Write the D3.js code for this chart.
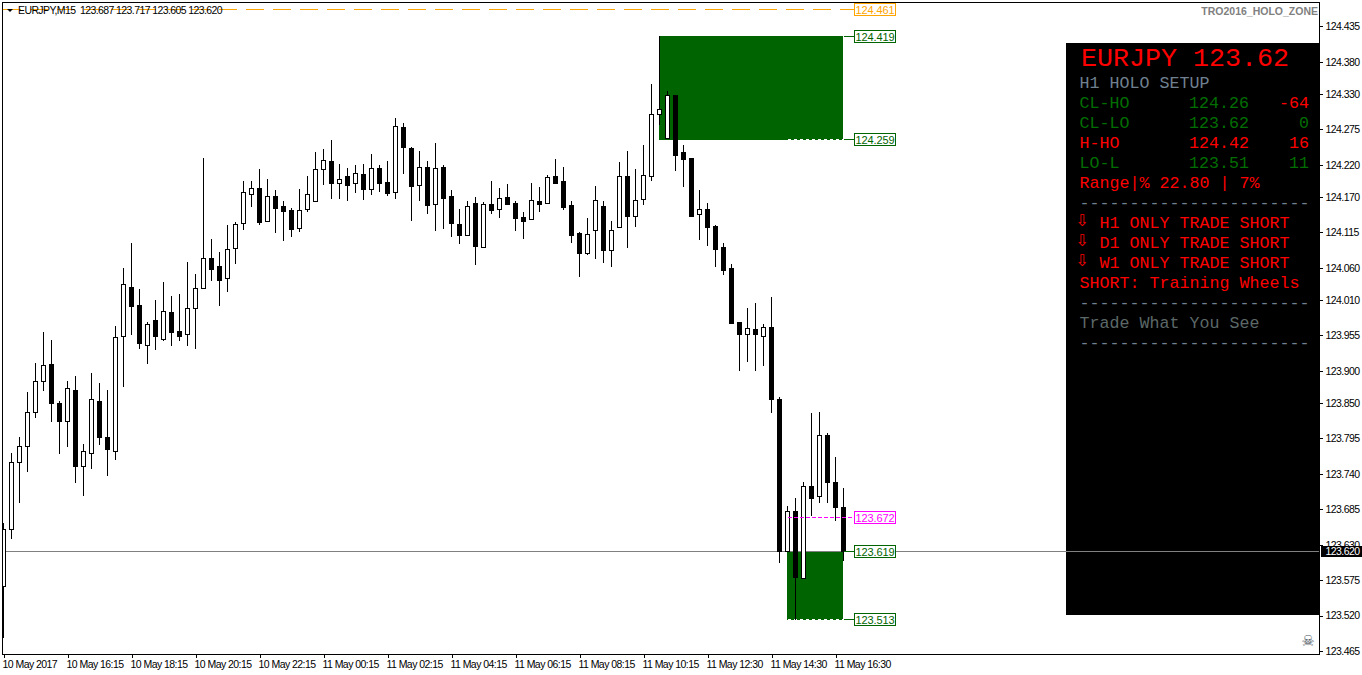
<!doctype html>
<html lang="en">
<head>
  <meta charset="utf-8">
  <title>EURJPY,M15</title>
  <style>
    html, body { margin: 0; padding: 0; background: #fff; overflow: hidden; }
    svg { display: block; }
    .axis text { font-family: "Liberation Sans", sans-serif; font-size: 10.5px; letter-spacing: -0.55px; fill: #000; }
    .axis line { stroke: #000; shape-rendering: crispEdges; }
    .lvl { font-family: "Liberation Sans", sans-serif; font-size: 11px; letter-spacing: -0.1px; }
    .panel text { font-family: "Liberation Mono", "Courier New", monospace; font-size: 16.67px; white-space: pre; }
  </style>
</head>
<body>
  <div id="chart"></div>
  <script src="https://d3js.org/d3.v7.min.js"></script>
  <script>
// candles, oldest first, one entry per M15 bar
var opens = [123.565,123.654,123.758,123.782,123.835,123.884,123.909,123.849,123.821,123.870,123.752,123.772,123.852,123.797,123.775,123.953,124.029,124.001,123.940,123.978,123.948,123.990,123.961,123.956,123.996,124.028,124.074,124.062,124.043,124.090,124.129,124.174,124.183,124.132,124.171,124.155,124.149,124.121,124.150,124.163,124.213,124.225,124.191,124.202,124.191,124.205,124.182,124.214,124.193,124.177,124.278,124.245,124.188,124.216,124.158,124.216,124.171,124.127,124.110,124.160,124.091,124.158,124.150,124.169,124.160,124.138,124.135,124.163,124.160,124.202,124.194,124.157,124.113,124.082,124.118,124.155,124.087,124.122,124.202,124.140,124.166,124.202,124.298,124.261,124.328,124.239,124.230,124.143,124.150,124.124,124.091,124.059,123.975,123.956,123.964,123.953,123.967,123.856,123.620,123.682,123.578,123.721,123.704,123.800,123.727,123.687];
var highs = [123.663,123.772,123.796,123.867,123.912,123.959,123.947,123.852,123.884,123.891,123.786,123.895,123.881,123.870,123.968,124.059,124.098,124.026,123.975,124.009,124.037,124.015,124.018,124.068,124.049,124.230,124.104,124.084,124.126,124.130,124.194,124.194,124.213,124.197,124.180,124.163,124.152,124.182,124.202,124.239,124.244,124.258,124.221,124.214,124.219,124.221,124.236,124.219,124.225,124.291,124.284,124.247,124.241,124.225,124.253,124.219,124.180,124.150,124.163,124.169,124.161,124.194,124.183,124.189,124.163,124.146,124.191,124.185,124.203,124.228,124.216,124.163,124.115,124.136,124.186,124.163,124.132,124.224,124.241,124.213,124.250,124.345,124.419,124.334,124.328,124.250,124.230,124.180,124.160,124.126,124.098,124.065,123.975,123.996,124.004,123.972,124.014,123.858,123.690,123.701,123.726,123.833,123.835,123.803,123.766,123.717];
var lows = [123.486,123.640,123.695,123.744,123.827,123.869,123.821,123.771,123.782,123.727,123.707,123.749,123.785,123.737,123.763,123.875,123.956,123.934,123.911,123.933,123.947,123.940,123.947,123.940,123.934,124.028,124.040,124.001,124.023,124.066,124.119,124.155,124.127,124.132,124.115,124.102,124.108,124.116,124.147,124.163,124.189,124.168,124.168,124.164,124.177,124.166,124.174,124.178,124.172,124.168,124.207,124.133,124.164,124.144,124.118,124.121,124.108,124.098,124.110,124.065,124.091,124.144,124.138,124.158,124.118,124.105,124.135,124.147,124.160,124.191,124.150,124.099,124.046,124.080,124.074,124.068,124.062,124.122,124.091,124.124,124.158,124.196,124.283,124.261,124.211,124.186,124.140,124.104,124.094,124.062,124.049,123.973,123.900,123.914,123.900,123.908,123.835,123.603,123.620,123.513,123.578,123.676,123.695,123.695,123.667,123.605];
var closes = [123.654,123.758,123.783,123.835,123.883,123.908,123.849,123.821,123.872,123.752,123.775,123.855,123.796,123.777,123.951,124.034,124.000,123.942,123.972,123.954,123.992,123.959,123.953,123.996,124.028,124.074,124.057,124.040,124.088,124.127,124.177,124.183,124.130,124.171,124.152,124.147,124.119,124.149,124.174,124.213,124.227,124.191,124.197,124.188,124.207,124.182,124.214,124.191,124.175,124.280,124.247,124.186,124.216,124.157,124.214,124.168,124.129,124.110,124.155,124.093,124.158,124.149,124.168,124.158,124.136,124.132,124.164,124.158,124.200,124.191,124.154,124.110,124.082,124.112,124.164,124.087,124.118,124.202,124.140,124.164,124.203,124.298,124.306,124.328,124.235,124.228,124.140,124.150,124.122,124.088,124.056,123.973,123.956,123.965,123.956,123.967,123.856,123.620,123.681,123.579,123.721,123.702,123.800,123.727,123.687,123.620];

var priceTicks = [124.435,124.380,124.330,124.275,124.220,124.170,124.115,124.060,124.010,123.955,123.900,123.850,123.795,123.740,123.685,123.630,123.575,123.520,123.465];
var timeLabels = ["10 May 2017","10 May 16:15","10 May 18:15","10 May 20:15","10 May 22:15","11 May 00:15","11 May 02:15","11 May 04:15","11 May 06:15","11 May 08:15","11 May 10:15","11 May 12:30","11 May 14:30","11 May 16:30"];

// holo levels
var levelValues = [124.461, 124.419, 124.259, 123.672, 123.619, 123.513];
var levelColors = ["#ffa500", "#006400", "#006400", "#ff00ff", "#006400", "#006400"];
var lastPrice = 123.620;
var upperZone = [124.419, 124.259];
var lowerZone = [123.619, 123.513];
var upperZoneStart = 82;
var lowerZoneStart = 98;

// the black info box, row by row
var panelRows = [
  ["H1 HOLO SETUP", "", "", "#708090"],
  ["CL-HO", "124.26", "-64", "#006e00", "#006e00", "#ff0000"],
  ["CL-LO", "123.62", "0", "#006e00", "#006e00", "#006e00"],
  ["H-HO", "124.42", "16", "#ff0000", "#ff0000", "#ff0000"],
  ["LO-L", "123.51", "11", "#006e00", "#006e00", "#006e00"],
  ["Range|% 22.80 | 7%", "", "", "#ff0000"],
  ["-----------------------", "", "", "#708090"],
  ["H1 ONLY TRADE SHORT", "", "", "#ff0000"],
  ["D1 ONLY TRADE SHORT", "", "", "#ff0000"],
  ["W1 ONLY TRADE SHORT", "", "", "#ff0000"],
  ["SHORT: Training Wheels", "", "", "#ff0000"],
  ["-----------------------", "", "", "#708090"],
  ["Trade What You See", "", "", "#5c6868"],
  ["-----------------------", "", "", "#708090"]
];
var arrowRows = [7, 8, 9];

(function(){

  var width = 1362;
  var height = 675;
  var left = 2.5, top = 2.5, right = 1319.5, bottom = 654.5;

  var y = d3.scaleLinear().domain([123.465, 124.435]).range([650.4, 25.76]);
  var x = d3.scaleLinear().domain([0, 105]).range([3.5, 843.5]);
  // snap to the pixel row so the candles stay sharp
  var py = function(v) { return Math.round(y(v)) + 0.5; };

  var svg = d3.select("#chart").append("svg")
    .attr("width", width)
    .attr("height", height);

  svg.append("clipPath").attr("id", "plot")
    .append("rect")
    .attr("x", 3).attr("y", 3)
    .attr("width", right - 3).attr("height", bottom - 3);

  // info box goes first, the price line runs over it
  svg.append("rect")
    .attr("x", 1066).attr("y", 43)
    .attr("width", right - 1066).attr("height", 572)
    .attr("fill", "#000");

  var chart = svg.append("g").attr("clip-path", "url(#plot)");

  // zones
  var zones = [
    {range: upperZone, start: upperZoneStart},
    {range: lowerZone, start: lowerZoneStart}
  ];
  chart.selectAll("rect.zone").data(zones).enter().append("rect")
    .attr("class", "zone")
    .attr("x", function(d) { return x(d.start) - 0.5; })
    .attr("y", function(d) { return py(d.range[0]) - 0.5; })
    .attr("width", function(d) { return x(105) - x(d.start); })
    .attr("height", function(d) { return py(d.range[1]) - py(d.range[0]) + 1; })
    .attr("fill", "#006400");

  // last price line
  chart.append("line")
    .attr("x1", 3).attr("x2", right)
    .attr("y1", py(lastPrice)).attr("y2", py(lastPrice))
    .attr("stroke", "#808080")
    .attr("shape-rendering", "crispEdges");

  // dotted bottom edges of the zones
  chart.selectAll("line.edge").data([upperZone[1], lowerZone[1]]).enter().append("line")
    .attr("class", "edge")
    .attr("x1", x(lowerZoneStart)).attr("x2", x(105))
    .attr("y1", py).attr("y2", py)
    .attr("stroke", "#fff")
    .attr("stroke-dasharray", "3,3")
    .attr("shape-rendering", "crispEdges");

  // candles
  var candle = chart.selectAll("g.candle").data(d3.range(opens.length)).enter().append("g")
    .attr("class", "candle")
    .attr("shape-rendering", "crispEdges");

  candle.append("line")
    .attr("x1", x).attr("x2", x)
    .attr("y1", function(i) { return py(highs[i]) - 0.5; })
    .attr("y2", function(i) { return py(lows[i]) + 0.5; })
    .attr("stroke", "#000");

  candle.append("rect")
    .attr("x", function(i) { return x(i) - 2; })
    .attr("width", 4)
    .attr("y", function(i) { return py(Math.max(opens[i], closes[i])); })
    .attr("height", function(i) { return py(Math.min(opens[i], closes[i])) - py(Math.max(opens[i], closes[i])); })
    .attr("fill", function(i) { return closes[i] > opens[i] ? "#fff" : "#000"; })
    .attr("stroke", "#000");

  // window frame
  svg.append("rect")
    .attr("x", left).attr("y", top)
    .attr("width", right - left).attr("height", bottom - top)
    .attr("fill", "none").attr("stroke", "#000")
    .attr("shape-rendering", "crispEdges");

  // axes
  var yAxis = d3.axisRight(y)
    .tickValues(priceTicks)
    .tickFormat(d3.format(".3f"))
    .tickSize(3)
    .tickPadding(3);
  var yg = svg.append("g").attr("class", "axis")
    .attr("transform", "translate(" + right + ",0.6)")
    .call(yAxis);
  yg.select(".domain").remove();

  var xAxis = d3.axisBottom(x)
    .tickValues(timeLabels.map(function(d, i) { return i * 8; }))
    .tickFormat(function(d) { return timeLabels[d / 8]; })
    .tickSize(3)
    .tickPadding(3);
  var xg = svg.append("g").attr("class", "axis")
    .attr("transform", "translate(0," + bottom + ")")
    .call(xAxis);
  xg.select(".domain").remove();
  xg.selectAll("text").attr("text-anchor", "start").attr("dx", -1.5);

  // current price tag
  svg.append("rect")
    .attr("x", 1321).attr("y", py(lastPrice) - 5.5)
    .attr("width", 41).attr("height", 11)
    .attr("fill", "#000");
  svg.append("text")
    .attr("x", 1325.5).attr("y", py(lastPrice) + 3.5)
    .attr("font-family", "Liberation Sans").attr("font-size", 10.5)
    .attr("letter-spacing", -0.55)
    .attr("fill", "#fff")
    .text(d3.format(".3f")(lastPrice));

  // level lines and their boxed labels
  var levelIdx = d3.range(levelValues.length);
  svg.selectAll("line.lvl0").data(levelIdx).enter().append("line")
    .attr("x1", function(i) { return i === 0 ? 3 : (i === 3 ? x(lowerZoneStart) : x(105)); })
    .attr("x2", 855)
    .attr("y1", function(i) { return py(levelValues[i]); })
    .attr("y2", function(i) { return py(levelValues[i]); })
    .attr("stroke", function(i) { return levelColors[i]; })
    .attr("stroke-dasharray", function(i) { return i === 0 ? "18,9" : (i === 3 ? "4,2" : null); })
    .attr("shape-rendering", "crispEdges");

  svg.selectAll("rect.tag").data(levelIdx).enter().append("rect")
    .attr("class", "tag")
    .attr("x", 854.5)
    .attr("y", function(i) { return py(levelValues[i]) - 6; })
    .attr("width", 41).attr("height", 12)
    .attr("fill", "#fff")
    .attr("stroke", function(i) { return levelColors[i]; })
    .attr("shape-rendering", "crispEdges");

  svg.selectAll("text.lvl").data(levelIdx).enter().append("text")
    .attr("class", "lvl")
    .attr("x", 875)
    .attr("y", function(i) { return py(levelValues[i]) + 4; })
    .attr("text-anchor", "middle")
    .attr("fill", function(i) { return levelColors[i]; })
    .text(function(i) { return d3.format(".3f")(levelValues[i]); });

  // title bits
  svg.append("path").attr("d", "M7 9H13L10 12Z").attr("fill", "#000");
  svg.append("text")
    .attr("x", 18).attr("y", 13.5)
    .attr("font-family", "Liberation Sans").attr("font-size", 10.5)
    .attr("letter-spacing", -0.6)
    .attr("fill", "#000")
    .style("white-space", "pre")
    .text("EURJPY,M15  123.687 123.717 123.605 123.620");
  svg.append("text")
    .attr("x", 1318).attr("y", 14.5)
    .attr("text-anchor", "end")
    .attr("font-family", "Liberation Sans").attr("font-size", 10.5).attr("font-weight", "bold")
    .attr("fill", "#808080")
    .text("TRO2016_HOLO_ZONE");
  svg.append("text")
    .attr("x", 1308).attr("y", 646)
    .attr("text-anchor", "middle")
    .attr("font-family", "DejaVu Sans").attr("font-size", 15)
    .attr("fill", "#4a5460")
    .text("\u2620");

  // info box text
  var panel = svg.append("g").attr("class", "panel");
  panel.append("text")
    .attr("x", 1081).attr("y", 66)
    .attr("fill", "#ff0000")
    .style("font-size", "26.67px")
    .text("EURJPY 123.62");

  panelRows.forEach(function(r, k) {
    var ty = 88 + k * 20;
    var tx = arrowRows.indexOf(k) >= 0 ? 1099.5 : 1079.5;
    panel.append("text").attr("x", tx).attr("y", ty).attr("fill", r[3]).text(r[0]);
    if (r[1]) panel.append("text").attr("x", 1189).attr("y", ty).attr("fill", r[4]).text(r[1]);
    if (r[2]) panel.append("text").attr("x", 1309).attr("y", ty).attr("text-anchor", "end").attr("fill", r[5]).text(r[2]);
  });

  // the three down arrows
  arrowRows.forEach(function(k) {
    panel.append("text")
      .attr("x", 1082).attr("y", 86 + k * 20)
      .attr("text-anchor", "middle")
      .attr("fill", "#ff0000")
      .style("font-family", "DejaVu Sans")
      .style("font-size", "16px")
      .text("\u21e9");
  });

})();
  </script>
</body>
</html>
